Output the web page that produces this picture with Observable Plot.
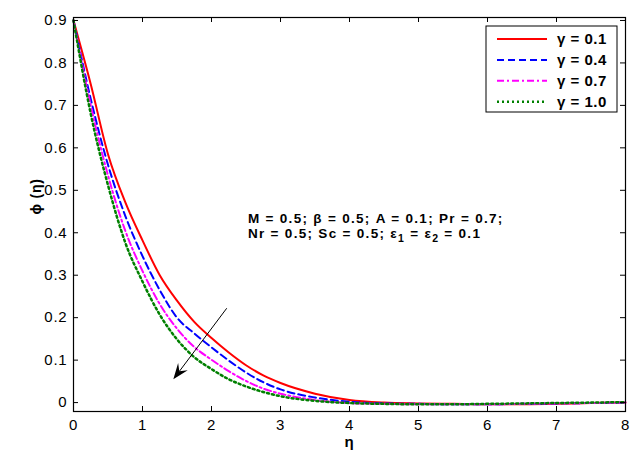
<!DOCTYPE html>
<html><head><meta charset="utf-8">
<script src="https://cdn.jsdelivr.net/npm/d3@7"></script>
<script src="https://cdn.jsdelivr.net/npm/@observablehq/plot@0.6"></script>
<style>
html,body{margin:0;padding:0;background:#fff;}
#chart svg{display:block;}
</style>
</head><body><div id="chart"></div>
<script>
// ---- data ----
const eta = [0,0.25,0.5,0.75,1,1.25,1.5,1.75,2,2.25,2.5,2.75,3,3.5,4,4.5,5,5.5,6,6.5,7,7.5,8];
const phiGamma01 = [0.9,0.75,0.585,0.472,0.382,0.3,0.24,0.19,0.152,0.118,0.088,0.064,0.046,0.021,0.006,0,-0.002,-0.003,-0.004,-0.004,-0.003,-0.001,0];
const phiGamma04 = [0.9,0.715,0.56,0.44,0.345,0.265,0.2,0.163,0.13,0.099,0.071,0.048,0.031,0.012,0.002,-0.002,-0.003,-0.004,-0.004,-0.003,-0.002,-0.001,0];
const phiGamma07 = [0.9,0.7,0.535,0.405,0.31,0.232,0.174,0.131,0.101,0.074,0.051,0.033,0.021,0.006,-0.001,-0.003,-0.004,-0.004,-0.004,-0.003,-0.002,-0.001,0];
const phiGamma10 = [0.9,0.68,0.512,0.377,0.285,0.207,0.149,0.107,0.079,0.055,0.038,0.025,0.015,0.004,-0.001,-0.003,-0.004,-0.004,-0.003,-0.002,-0.001,0,0.001];
const seriesLabels = ["γ = 0.1","γ = 0.4","γ = 0.7","γ = 1.0"];
const seriesValues = [phiGamma01, phiGamma04, phiGamma07, phiGamma10];
const xTicks = [0,1,2,3,4,5,6,7,8];
const xTickLabels = ["0","1","2","3","4","5","6","7","8"];
const yTicks = [0,0.1,0.2,0.3,0.4,0.5,0.6,0.7,0.8,0.9];
const yTickLabels = ["0","0.1","0.2","0.3","0.4","0.5","0.6","0.7","0.8","0.9"];
const xLabel = "η";
const yLabel = "ϕ (η)";
const annotationLine1 = [{t:"M = 0.5; β = 0.5; A = 0.1; Pr = 0.7;"}];
const annotationLine2 = [{t:"Nr = 0.5; Sc = 0.5; ε"},{t:"1",sub:true},{t:" = ε"},{t:"2",sub:true},{t:" = 0.1"}];
const annotationAt = {eta: 2.536, phi: 0.433};
const arrowFrom = {eta: 2.228, phi: 0.221};
const arrowTo = {eta: 1.454, phi: 0.0535};

// ---- styles ----
const seriesStyles = [
  {color:"#ff0000", width:2, dash:null},
  {color:"#0000ff", width:2, dash:"7,4"},
  {color:"#ff00ff", width:2, dash:"7,3,2,3"},
  {color:"#008000", width:2.5, dash:"2,3"}
];
const FONT = "'Liberation Sans', Arial, Helvetica, sans-serif";

const W = 639, H = 451;
const mL = 73, mR = 14, mT = 17, mB = 40;
const frameW = W - mL - mR, frameH = H - mT - mB;

const lineMarks = seriesValues.map((vals, k) => {
  const rows = eta.map((e, i) => ({eta: e, phi: vals[i]}));
  const s = seriesStyles[k];
  return Plot.line(rows, {x: "eta", y: "phi", stroke: s.color, strokeWidth: s.width,
    strokeDasharray: s.dash ?? undefined, curve: "monotone-x"});
});

function legendMark(index, scales, values, dims) {
  const g = d3.create("svg:g");
  const w = 131, h = 86;
  const right = dims.width - dims.marginRight - 8;
  const left = right - w;
  const top = dims.marginTop + 9;
  g.append("rect").attr("x", left).attr("y", top).attr("width", w).attr("height", h)
    .attr("fill", "white").attr("stroke", "black").attr("stroke-width", 1);
  seriesLabels.forEach((lab, i) => {
    const s = seriesStyles[i];
    const cy = top + 13 + i * 20.9;
    g.append("line").attr("x1", left + 11).attr("x2", left + 61).attr("y1", cy).attr("y2", cy)
      .attr("stroke", s.color).attr("stroke-width", s.width)
      .attr("stroke-dasharray", s.dash);
    g.append("text").attr("x", left + 71).attr("y", cy).attr("dy", "0.36em")
      .attr("text-anchor", "start").attr("letter-spacing", "0.5px")
      .attr("font-family", FONT).attr("font-weight", "bold").attr("font-size", 15)
      .attr("fill", "black").text(lab);
  });
  return g.node();
}

function annotationMark(index, scales) {
  const g = d3.create("svg:g").attr("text-anchor", "start");
  const x = scales.x(annotationAt.eta), y = scales.y(annotationAt.phi);
  const t1 = g.append("text").attr("x", x).attr("y", y).attr("dy", "0.36em").attr("letter-spacing", "1.3px")
    .attr("font-family", FONT).attr("font-weight", "bold").attr("font-size", 13.5).attr("fill", "black");
  annotationLine1.forEach(p => t1.append("tspan").text(p.t));
  const t2 = g.append("text").attr("x", x).attr("y", y + 15).attr("dy", "0.36em").attr("letter-spacing", "1.3px")
    .attr("font-family", FONT).attr("font-weight", "bold").attr("font-size", 13.5).attr("fill", "black");
  annotationLine2.forEach(p => {
    const ts = t2.append("tspan").text(p.t);
    if (p.sub) ts.attr("font-size", 10.5).attr("dy", 3.5);
    else if (t2.node().childNodes.length > 1) ts.attr("dy", -3.5);
  });
  return g.node();
}

function arrowMark(index, scales) {
  const g = d3.create("svg:g");
  const x1 = scales.x(arrowFrom.eta), y1 = scales.y(arrowFrom.phi);
  const x2 = scales.x(arrowTo.eta), y2 = scales.y(arrowTo.phi);
  const ang = Math.atan2(y2 - y1, x2 - x1);
  const L = 16, Wd = 6, notch = 10;
  const ux = Math.cos(ang), uy = Math.sin(ang);
  const px = -uy, py = ux;
  const bx = x2 - ux * L, by = y2 - uy * L;
  const nx = x2 - ux * notch, ny = y2 - uy * notch;
  g.append("line").attr("x1", x1).attr("y1", y1).attr("x2", nx).attr("y2", ny)
    .attr("stroke", "black").attr("stroke-width", 1);
  g.append("path").attr("d", `M${x2},${y2}L${bx + px * Wd},${by + py * Wd}L${nx},${ny}L${bx - px * Wd},${by - py * Wd}Z`)
    .attr("fill", "black");
  return g.node();
}

const chart = Plot.plot({
  width: W, height: H,
  marginLeft: mL, marginRight: mR, marginTop: mT, marginBottom: mB,
  style: {fontFamily: FONT, fontSize: "15px", color: "black", background: "white", letterSpacing: "0.8px"},
  x: {domain: [0, 8]},
  y: {domain: [-0.021, 0.907]},
  marks: [
    ...lineMarks,
    arrowMark,
    annotationMark,
    Plot.ruleX(xTicks, {x: d => d, insetTop: frameH - 5, stroke: "black"}),
    Plot.ruleX(xTicks, {x: d => d, insetBottom: frameH - 5, stroke: "black"}),
    Plot.ruleY(yTicks, {y: d => d, insetRight: frameW - 5, stroke: "black"}),
    Plot.ruleY(yTicks, {y: d => d, insetLeft: frameW - 5, stroke: "black"}),
    Plot.frame({stroke: "black", strokeWidth: 1.2}),
    Plot.axisX({ticks: xTicks, tickFormat: (d, i) => xTickLabels[i], tickSize: 0, tickPadding: 8, label: null, fontSize: 15}),
    Plot.axisY({ticks: yTicks, tickFormat: (d, i) => yTickLabels[i], tickSize: 0, tickPadding: 6, label: null, fontSize: 15}),
    Plot.text([xLabel], {text: d => d, frameAnchor: "bottom", dy: 35, fontWeight: "bold", fontSize: 15}),
    Plot.text([yLabel], {text: d => d, frameAnchor: "left", dx: -37, rotate: -90, fontWeight: "bold", fontSize: 14}),
    legendMark
  ]
});
document.getElementById("chart").appendChild(chart);
</script>
</body></html>
